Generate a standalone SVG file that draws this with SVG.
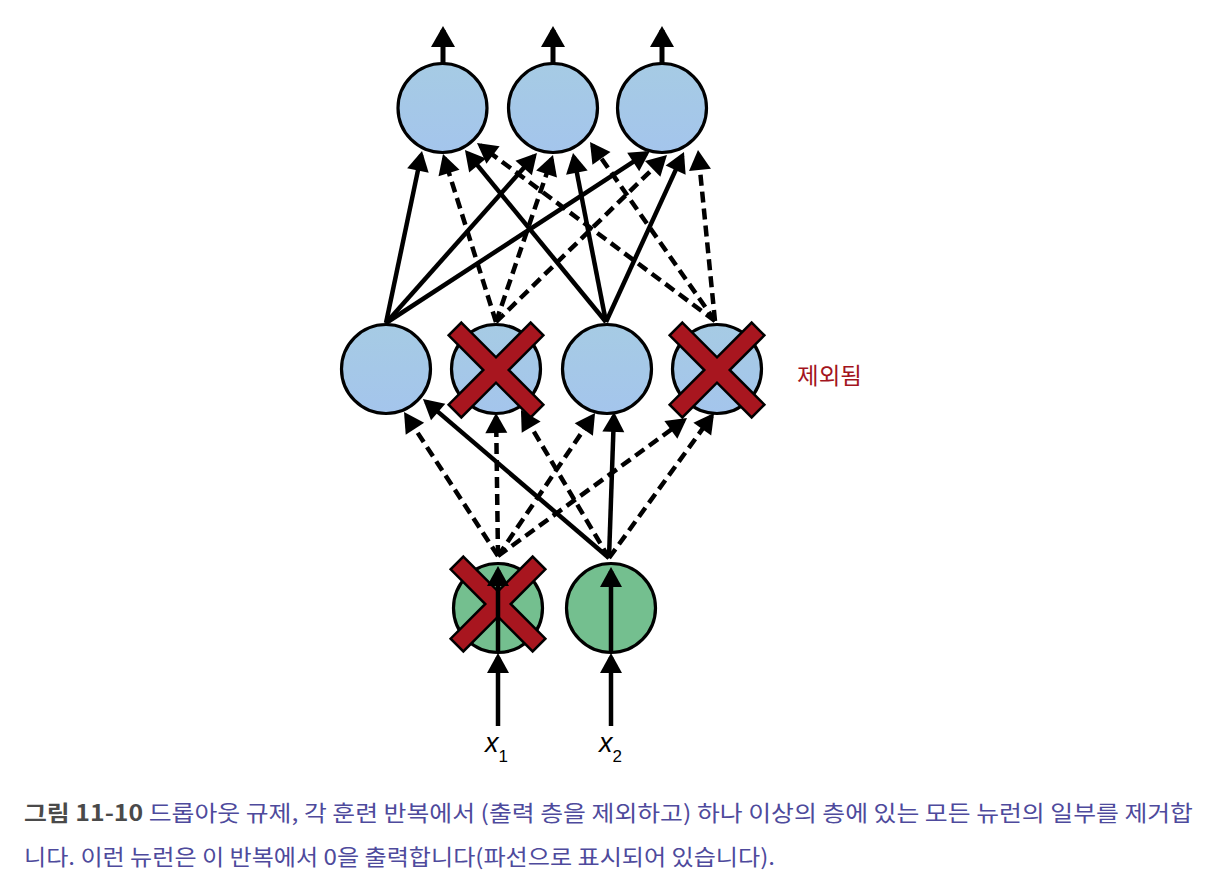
<svg xmlns="http://www.w3.org/2000/svg" xmlns:xlink="http://www.w3.org/1999/xlink" width="1221" height="894" viewBox="0 0 1221 894">
<style>
.blue{fill:url(#gb);stroke:#000;stroke-width:3.2}
.green{fill:#74BF8F;stroke:#000;stroke-width:3.2}
.cx{fill:#A8161F;stroke:#000;stroke-width:2.5;stroke-linejoin:miter}
.s{fill:none;stroke:#000;stroke-width:4.5;marker-end:url(#ah)}
.d{fill:none;stroke:#000;stroke-width:4.5;stroke-dasharray:11 6;marker-end:url(#ah)}
.big{fill:none;stroke:#000;stroke-width:5;marker-end:url(#ahb)}
.cap{font-family:"Noto Sans CJK KR","Noto Sans CJK SC",sans-serif;font-size:22px;fill:#4E4A9C}
.capb{font-weight:bold;fill:#4A4A4A}
.lab{font-family:"Liberation Sans",Arial,sans-serif;font-style:italic;fill:#000}
</style>
<defs>
<linearGradient id="gb" x1="0" y1="0" x2="0" y2="1">
<stop offset="0" stop-color="#A6CBE4"/>
<stop offset="1" stop-color="#A4C5EC"/>
</linearGradient>
<marker id="ah" markerUnits="userSpaceOnUse" markerWidth="22" markerHeight="22" refX="16" refY="11" orient="auto" overflow="visible">
<path d="M0,0 L20,11 L0,22 z" fill="#000"/>
</marker>
<marker id="ahb" markerUnits="userSpaceOnUse" markerWidth="22" markerHeight="24" refX="17" refY="12" orient="auto" overflow="visible">
<path d="M0,0 L21,12 L0,24 z" fill="#000"/>
</marker>
<path id="cross" d="M-58,-9 L-9,-9 L-9,-58 L9,-58 L9,-9 L58,-9 L58,9 L9,9 L9,58 L-9,58 L-9,9 L-58,9 Z" transform="rotate(45)"/>
</defs>
<rect width="1221" height="894" fill="#fff"/>

<g id="output-layer">
<g id="o1"><circle class="blue" cx="442.5" cy="108" r="44.5"/></g>
<g id="o2"><circle class="blue" cx="553" cy="108" r="44.5"/></g>
<g id="o3"><circle class="blue" cx="662" cy="108" r="44.5"/></g>
</g>

<g id="hidden-layer">
<g id="h1"><circle class="blue" cx="386" cy="369" r="44.5"/></g>
<g id="h2"><circle class="blue" cx="496" cy="369" r="44.5"/><use href="#cross" class="cx" transform="translate(496,370)"/></g>
<g id="h3"><circle class="blue" cx="607" cy="369" r="44.5"/></g>
<g id="h4"><circle class="blue" cx="717" cy="369" r="44.5"/><use href="#cross" class="cx" transform="translate(717,370)"/></g>
</g>

<g id="input-layer">
<g id="i1"><circle class="green" cx="498" cy="608" r="44.5"/><use href="#cross" class="cx" transform="translate(498,604)"/></g>
<g id="i2"><circle class="green" cx="611" cy="608" r="44.5"/></g>
</g>

<g id="connectors">
<path class="big" d="M443,63 L443,30"/>
<path class="big" d="M553,63 L553,30"/>
<path class="big" d="M662,63 L662,30"/>
<path class="s" d="M386,323 L421.2,154.9"/>
<path class="s" d="M386,323 L534.3,156"/>
<path class="s" d="M386,323 L646.6,153.2"/>
<path class="d" d="M496,322 L444.2,157.8"/>
<path class="d" d="M496,322 L551.7,158.8"/>
<path class="d" d="M496,322 L664.1,157.8"/>
<path class="s" d="M606,322 L467.5,153.1"/>
<path class="s" d="M606,322 L573.8,156.9"/>
<path class="s" d="M606,322 L682.3,155.6"/>
<path class="d" d="M715,321 L480.2,145.4"/>
<path class="d" d="M715,321 L592.3,145.3"/>
<path class="d" d="M715,321 L698.4,154"/>
<path class="d" d="M498,556 L406.2,415.3"/>
<path class="d" d="M498,556 L496.1,417"/>
<path class="d" d="M498,556 L592.8,416.3"/>
<path class="d" d="M498,556 L683.8,420.4"/>
<path class="s" d="M609,558 L426,401.6"/>
<path class="d" d="M609,558 L523,413.4"/>
<path class="s" d="M609,558 L613.9,416"/>
<path class="d" d="M609,558 L711.7,416.2"/>
<path class="s" d="M498,726 L498,657"/>
<path class="s" d="M611,726 L611,657"/>
<path class="s" d="M498,653 L498,570"/>
<path class="s" d="M611,653 L611,571"/>
</g>

<g id="labels">
<text class="lab" x="485" y="752" font-size="27">x<tspan font-style="normal" font-size="17" dy="10">1</tspan></text>
<text class="lab" x="599" y="752" font-size="27">x<tspan font-style="normal" font-size="17" dy="10">2</tspan></text>
<text x="797" y="384" font-family="'Noto Sans CJK KR',sans-serif" font-size="23" fill="#A3141D" textLength="65" lengthAdjust="spacingAndGlyphs">제외됨</text>
</g>

<g id="caption">
<text class="cap" x="24" y="821" textLength="1169" lengthAdjust="spacingAndGlyphs"><tspan class="capb">그림 11-10</tspan> 드롭아웃 규제, 각 훈련 반복에서 (출력 층을 제외하고) 하나 이상의 층에 있는 모든 뉴런의 일부를 제거합</text>
<text class="cap" x="24" y="865" textLength="751" lengthAdjust="spacingAndGlyphs">니다. 이런 뉴런은 이 반복에서 0을 출력합니다(파선으로 표시되어 있습니다).</text>
</g>
</svg>
